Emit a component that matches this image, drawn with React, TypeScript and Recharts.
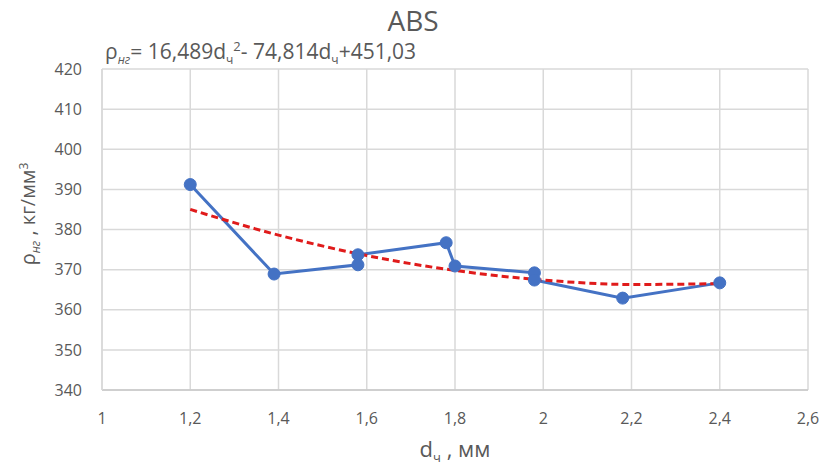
import React from "react";
import { ComposedChart, Line, XAxis, YAxis, CartesianGrid } from "recharts";

const dVals = [1.2, 1.39, 1.58, 1.58, 1.78, 1.8, 1.98, 1.98, 2.18, 2.4];
const rhoVals = [391.2, 368.9, 371.2, 373.7, 376.7, 370.9, 369.2, 367.4, 362.9, 366.7];

const trendD = [1.2, 1.4, 1.6, 1.8, 2.0, 2.2, 2.4];
const trendRho = [385.0, 378.6, 373.5, 369.8, 367.4, 366.3, 366.5];

const xTicks = [1, 1.2, 1.4, 1.6, 1.8, 2, 2.2, 2.4, 2.6];
const yTicks = [340, 350, 360, 370, 380, 390, 400, 410, 420];

const measured = dVals.map((x, i) => ({ x, y: rhoVals[i] }));
const trend = trendD.map((x, i) => ({ x, y: trendRho[i] }));

const FONT = "'Open Sans', 'Noto Sans', sans-serif";
const TXT = "#595959";
const GRID = "#d9d9d9";

const fmt = (v: number) => String(v).replace(".", ",");

export default function App() {
  return (
    <div style={{ position: "fixed", left: 0, top: 0, width: 826, height: 471, background: "#fff", fontFamily: FONT }}>
      <ComposedChart width={826} height={471} margin={{ top: 69, right: 18, bottom: 0, left: 0 }}>
        <CartesianGrid stroke={GRID} strokeWidth={1.5} />
        <XAxis
          type="number"
          dataKey="x"
          domain={[1, 2.6]}
          ticks={xTicks}
          tickFormatter={fmt}
          height={81}
          tickSize={0}
          tickMargin={23}
          axisLine={{ stroke: "#c8c8c8", strokeWidth: 1.5 }}
          tickLine={false}
          tick={{ fill: TXT, fontSize: 16, fontFamily: FONT }}
          allowDuplicatedCategory={false}
        />
        <YAxis
          type="number"
          domain={[340, 420]}
          ticks={yTicks}
          width={102}
          tickSize={0}
          tickMargin={20}
          axisLine={{ stroke: GRID, strokeWidth: 1.5 }}
          tickLine={false}
          tick={{ fill: TXT, fontSize: 16, fontFamily: FONT }}
        />
        <Line
          data={measured}
          dataKey="y"
          type="linear"
          stroke="#4472c4"
          strokeWidth={3}
          dot={{ r: 6, fill: "#4472c4", stroke: "#4472c4", strokeWidth: 1 }}
          activeDot={false}
          isAnimationActive={false}
        />
        <Line
          data={trend}
          dataKey="y"
          type="monotone"
          stroke="#e01b1b"
          strokeWidth={3}
          strokeDasharray="7 4"
          dot={false}
          activeDot={false}
          isAnimationActive={false}
        />
      </ComposedChart>

      <div style={{ position: "absolute", left: 313, width: 200, top: 2, textAlign: "center", fontSize: 28, color: TXT, lineHeight: "36px" }}>
        ABS
      </div>
      <div style={{ position: "absolute", left: 105, top: 31, fontSize: 21, color: TXT, whiteSpace: "nowrap", lineHeight: "30px" }}>
        ρ<sub style={{ fontSize: 12, fontStyle: "italic" }}>нг</sub>= 16,489d<sub style={{ fontSize: 12 }}>ч</sub>
        <sup style={{ fontSize: 13 }}>2</sup>- 74,814d<sub style={{ fontSize: 12 }}>ч</sub>+451,03
      </div>
      <div style={{ position: "absolute", left: 355, width: 200, top: 434, textAlign: "center", fontSize: 22, color: TXT, whiteSpace: "nowrap", lineHeight: "28px" }}>
        d<sub style={{ fontSize: 13 }}>ч</sub> , мм
      </div>
      <div
        style={{
          position: "absolute",
          left: 30,
          top: 214,
          transform: "translate(-50%, -50%) rotate(-90deg)",
          fontSize: 20,
          color: TXT,
          whiteSpace: "nowrap",
          lineHeight: "28px",
        }}
      >
        ρ<sub style={{ fontSize: 12, fontStyle: "italic" }}>нг</sub> , кг/мм<sup style={{ fontSize: 12 }}>3</sup>
      </div>
    </div>
  );
}
